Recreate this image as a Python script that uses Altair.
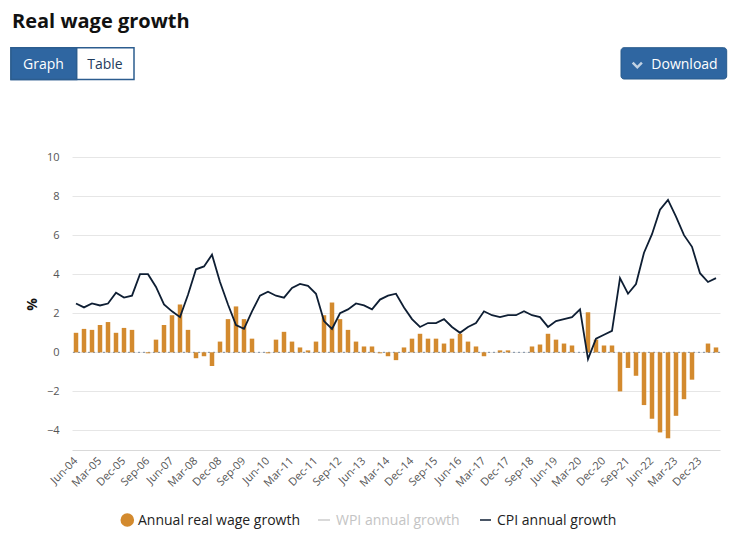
import altair as alt
import pandas as pd

months = ["Mar", "Jun", "Sep", "Dec"]
quarters = [f"{m}-{str(y)[2:]}" for y in range(2004, 2025) for m in months][1:82]

real_wage = [1.0, 1.2, 1.15, 1.4, 1.55, 1.0, 1.25, 1.15, 0.0, -0.05,
             0.65, 1.4, 1.9, 2.45, 1.15, -0.3, -0.2, -0.7, 0.55, 1.7,
             2.35, 1.7, 0.7, 0.0, -0.05, 0.65, 1.05, 0.55, 0.25, 0.1,
             0.55, 1.9, 2.55, 1.7, 1.15, 0.55, 0.3, 0.3, -0.05, -0.2,
             -0.4, 0.25, 0.7, 0.95, 0.7, 0.7, 0.45, 0.7, 0.95, 0.55,
             0.3, -0.2, 0.0, 0.1, 0.1, 0.0, 0.0, 0.3, 0.4, 0.95,
             0.65, 0.45, 0.35, 0.0, 2.05, 0.65, 0.35, 0.35, -2.0, -0.8,
             -1.2, -2.7, -3.4, -4.1, -4.4, -3.25, -2.4, -1.4, 0.0, 0.45,
             0.25]

cpi = [2.5, 2.3, 2.5, 2.4, 2.5, 3.05, 2.8, 2.9, 4.0, 4.0,
       3.35, 2.45, 2.1, 1.8, 2.95, 4.25, 4.4, 5.0, 3.6, 2.45,
       1.4, 1.2, 2.1, 2.9, 3.1, 2.9, 2.8, 3.3, 3.5, 3.4,
       3.0, 1.6, 1.2, 2.0, 2.2, 2.5, 2.4, 2.2, 2.7, 2.9,
       3.0, 2.3, 1.7, 1.3, 1.5, 1.5, 1.7, 1.3, 1.0, 1.3,
       1.5, 2.1, 1.9, 1.8, 1.9, 1.9, 2.1, 1.9, 1.8, 1.3,
       1.6, 1.7, 1.8, 2.2, -0.35, 0.7, 0.9, 1.1, 3.8, 3.0,
       3.5, 5.1, 6.05, 7.3, 7.8, 6.95, 6.0, 5.4, 4.05, 3.6,
       3.8]

y_ticks = [-4, -2, 0, 2, 4, 6, 8, 10]
x_ticks = quarters[::3]

df = pd.DataFrame({"quarter": quarters, "real": real_wage, "cpi": cpi})
one = pd.DataFrame({"v": [0]})

ORANGE = "#d38a2e"
NAVY = "#0e1e33"
BLUE = "#2f66a1"

x_enc = alt.X(
    "quarter:N", sort=quarters,
    scale=alt.Scale(paddingInner=0, paddingOuter=0),
    axis=alt.Axis(values=x_ticks, labelAngle=-45, labelAlign="right",
                  labelBaseline="middle", ticks=False, labelPadding=9,
                  domainColor="#d9d9d9", labelColor="#555", labelFontSize=11,
                  grid=False, title=None),
)
y_axis = alt.Axis(values=y_ticks, gridColor="#e6e6e6", domain=False, ticks=False,
                  labelPadding=13, labelColor="#555", labelFontSize=11,
                  title="%", titleAngle=-90, titleX=-40, titleY=147,
                  titleFontSize=14, titleFontWeight="bold", titleColor="#111",
                  titleAlign="center", titleBaseline="middle")
y_scale = alt.Scale(domain=[-5, 10], nice=False)

zero_rule = alt.Chart(one).mark_rule(color="#7d8ea3", strokeDash=[2, 3], strokeWidth=1).encode(
    y=alt.Y("v:Q", scale=y_scale, axis=y_axis)
)
bars = alt.Chart(df).mark_bar(size=4.5, color=ORANGE).encode(
    x=x_enc, y=alt.Y("real:Q", scale=y_scale, axis=y_axis), y2=alt.datum(0)
)
line = alt.Chart(df).mark_line(color=NAVY, strokeWidth=1.8).encode(
    x=x_enc, y=alt.Y("cpi:Q", scale=y_scale, axis=y_axis)
)


def txt(s, x, y, size=14, color="#222", weight="normal", align="left"):
    return alt.Chart(one).mark_text(text=s, align=align, baseline="alphabetic",
                                    fontSize=size, color=color, fontWeight=weight).encode(
        x=alt.value(x), y=alt.value(y))


def box(x1, x2, y1, y2, fill, stroke=None, radius=0, sw=1.5):
    kw = dict(color=fill, cornerRadius=radius)
    if stroke:
        kw.update(stroke=stroke, strokeWidth=sw)
    return alt.Chart(one).mark_rect(**kw).encode(
        x=alt.value(x1), x2=alt.value(x2), y=alt.value(y1), y2=alt.value(y2))


def seg(x1, x2, y, color, sw=1.5):
    return alt.Chart(one).mark_rule(color=color, strokeWidth=sw).encode(
        x=alt.value(x1), x2=alt.value(x2), y=alt.value(y))


decor = [
    txt("Real wage growth", -60, -129.5, size=20, color="#111", weight="bold"),
    box(-61, 62, -109.3, -77.5, "#ffffff", stroke="#2c5d8f"),
    box(-61, 4.7, -109.3, -77.5, BLUE, stroke="#2c5d8f"),
    txt("Graph", -28.5, -88, size=14, color="#ffffff", align="center"),
    txt("Table", 33, -88, size=14, color="#1f3b5c", align="center"),
    box(549, 654.7, -109.3, -78, BLUE, stroke="#295a8c", radius=3, sw=1),
    alt.Chart(one).mark_point(shape="M-1,-0.5L0,0.5L1,-0.5", filled=False, stroke="#ffffff",
                              strokeWidth=2.5, size=85).encode(x=alt.value(565.3), y=alt.value(-92)),
    txt("Download", 612.5, -87.7, size=14, color="#ffffff", align="center"),
    alt.Chart(one).mark_point(shape="circle", filled=True, size=185, color=ORANGE, opacity=1).encode(
        x=alt.value(55.3), y=alt.value(363)),
    txt("Annual real wage growth", 66, 368.3, size=14, color="#222"),
    seg(246, 258, 363, "#cccccc"),
    txt("WPI annual growth", 264, 368.3, size=14, color="#c4c4c4"),
    seg(408, 419, 363, NAVY),
    txt("CPI annual growth", 425, 368.3, size=14, color="#222"),
]

chart = alt.layer(zero_rule, bars, line, *decor).properties(
    width=648, height=293,
    autosize=alt.AutoSizeParams(type="none"),
    padding={"left": 64, "top": 149, "right": 12, "bottom": 86},
).configure(font="Open Sans").configure_view(stroke=None)

chart.save("out.html", embed_options={"renderer": "svg", "actions": False})
